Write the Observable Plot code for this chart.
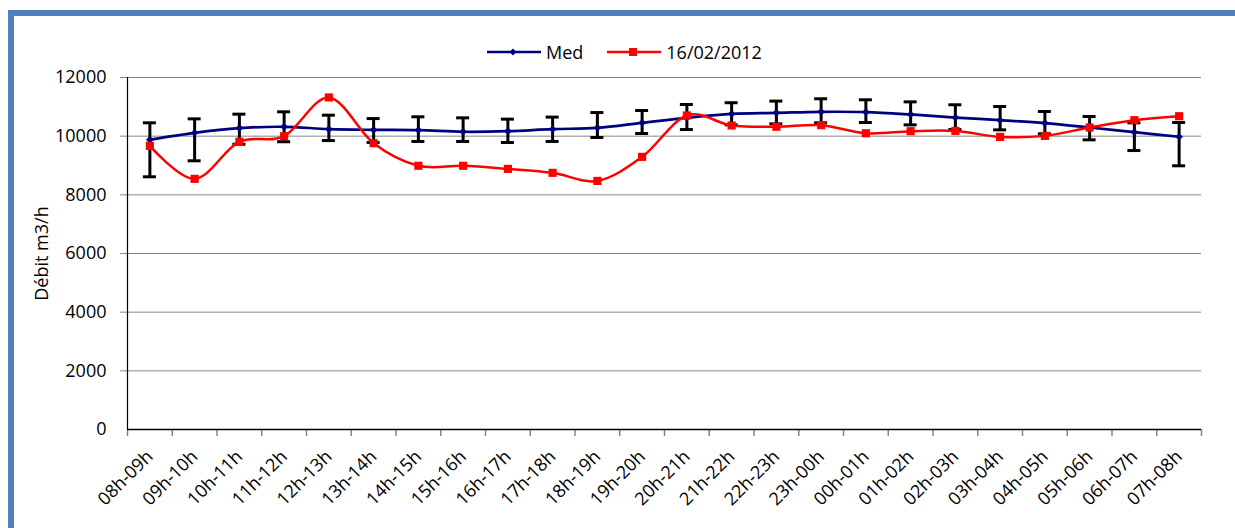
<!DOCTYPE html>
<html>
<head>
<meta charset="utf-8">
<script src="https://cdn.jsdelivr.net/npm/d3@7"></script>
<script src="https://cdn.jsdelivr.net/npm/@observablehq/plot@0.6"></script>
<style>
  html, body { margin: 0; padding: 0; background: #fff; }
  #wrap { position: relative; width: 1235px; height: 528px; overflow: hidden; font-family: "Open Sans", sans-serif; }
  #frameTop { position: absolute; left: 8px; top: 10px; width: 1227px; height: 6px; background: #4f81bd; }
  #frameLeft { position: absolute; left: 8px; top: 10px; width: 6px; height: 518px; background: #4f81bd; }
  #legend { position: absolute; top: 40px; left: 487px; display: flex; align-items: center; font-size: 18px; color: #000; white-space: nowrap; }
  #legend .item { display: flex; align-items: center; margin-right: 24px; }
  #legend svg { margin-right: 5px; }
  #chart { position: absolute; left: 0; top: 0; }
</style>
</head>
<body>
<div id="wrap">
  <div id="chart"></div>
  <div id="frameTop"></div>
  <div id="frameLeft"></div>
  <div id="legend"></div>
</div>
<script>
const hours = ["08h-09h","09h-10h","10h-11h","11h-12h","12h-13h","13h-14h","14h-15h","15h-16h","16h-17h","17h-18h","18h-19h","19h-20h","20h-21h","21h-22h","22h-23h","23h-00h","00h-01h","01h-02h","02h-03h","03h-04h","04h-05h","05h-06h","06h-07h","07h-08h"];
const medValues = [9880,10115,10275,10320,10240,10215,10205,10150,10170,10240,10285,10455,10625,10760,10795,10830,10820,10740,10635,10545,10445,10295,10135,9980];
const medHigh = [10455,10590,10750,10830,10715,10600,10660,10625,10580,10650,10805,10875,11080,11140,11195,11275,11240,11170,11070,11010,10840,10670,10455,10465];
const medLow = [8615,9160,9725,9810,9850,9785,9820,9820,9785,9820,9955,10090,10225,10385,10420,10455,10465,10385,10225,10215,10080,9875,9510,8990];
const dayValues = [9670,8545,9810,10000,11320,9760,8990,8990,8885,8750,8475,9295,10705,10365,10320,10375,10100,10170,10180,9975,10010,10295,10545,10680];
const yTicks = [0,2000,4000,6000,8000,10000,12000];
const seriesNames = ["Med","16/02/2012"];
const seriesColors = ["#000080","#ff0000"];

const med = hours.map((h,i) => ({hour: h, value: medValues[i], low: medLow[i], high: medHigh[i]}));
const day = hours.map((h,i) => ({hour: h, value: dayValues[i]}));

const W = 1235, H = 528, ML = 127, MR = 34, MT = 77, MB = 99;
const step = (W - ML - MR) / hours.length;

const chart = Plot.plot({
  width: W, height: H,
  marginLeft: ML, marginRight: MR, marginTop: MT, marginBottom: MB,
  style: {fontFamily: "Open Sans, sans-serif", fontSize: "18px", color: "#000", background: "transparent"},
  x: {type: "point", domain: hours, padding: 0.5, round: false},
  y: {domain: [0, 12000]},
  marks: [
    Plot.ruleY(yTicks.filter(d => d > 0), {stroke: "#868686", strokeWidth: 1, insetLeft: -7}),
    Plot.ruleX(hours, {x: d => d, dx: -step/2, y1: 0, y2: 0, insetBottom: -7, stroke: "#868686", strokeWidth: 1.5}),
    Plot.ruleX([hours[hours.length-1]], {x: d => d, dx: step/2, y1: 0, y2: 0, insetBottom: -7, stroke: "#868686", strokeWidth: 1.5}),
    Plot.axisY({ticks: yTicks, tickSize: 0, tickPadding: 21, tickFormat: "d", label: "Débit m3/h", labelAnchor: "center", labelOffset: 92, labelArrow: "none"}),
    Plot.axisX({tickRotate: -45, tickSize: 0, tickPadding: 24, label: null}),
    Plot.ruleX(med, {x: "hour", y1: "low", y2: "high", stroke: "#000", strokeWidth: 3}),
    Plot.ruleY(med, {x1: "hour", x2: "hour", y: "high", stroke: "#000", strokeWidth: 3, insetLeft: -6.5, insetRight: -6.5}),
    Plot.ruleY(med, {x1: "hour", x2: "hour", y: "low", stroke: "#000", strokeWidth: 3, insetLeft: -6.5, insetRight: -6.5}),
    Plot.line(med, {x: "hour", y: "value", stroke: seriesColors[0], strokeWidth: 2.7, curve: "cardinal"}),
    Plot.dot(med, {x: "hour", y: "value", symbol: "diamond2", fill: seriesColors[0], r: 3.2, stroke: seriesColors[0], strokeWidth: 0.5}),
    Plot.line(day, {x: "hour", y: "value", stroke: seriesColors[1], strokeWidth: 2.5, curve: "cardinal"}),
    Plot.dot(day, {x: "hour", y: "value", symbol: "square", fill: seriesColors[1], r: 4.6}),
    Plot.ruleX([hours[0]], {x: d => d, dx: -step/2, y1: 0, y2: 12000, stroke: "#000", strokeWidth: 1.2}),
    Plot.ruleY([0], {stroke: "#000", strokeWidth: 1.5})
  ]
});
document.getElementById("chart").appendChild(chart);

// legend
const legend = document.getElementById("legend");
seriesNames.forEach((name, i) => {
  const item = document.createElement("div");
  item.className = "item";
  const sw = d3.create("svg").attr("width", 54).attr("height", 12);
  sw.append("line").attr("x1", 0).attr("x2", 54).attr("y1", 6).attr("y2", 6).attr("stroke", seriesColors[i]).attr("stroke-width", 2.5);
  if (i === 0) {
    sw.append("path").attr("d", d3.symbol(d3.symbolDiamond2, 30)()).attr("transform", "translate(26,6)").attr("fill", seriesColors[i]);
  } else {
    sw.append("rect").attr("x", 22).attr("y", 2).attr("width", 8).attr("height", 8).attr("fill", seriesColors[i]);
  }
  item.appendChild(sw.node());
  const t = document.createElement("span");
  t.textContent = name;
  item.appendChild(t);
  legend.appendChild(item);
});
</script>
</body>
</html>
